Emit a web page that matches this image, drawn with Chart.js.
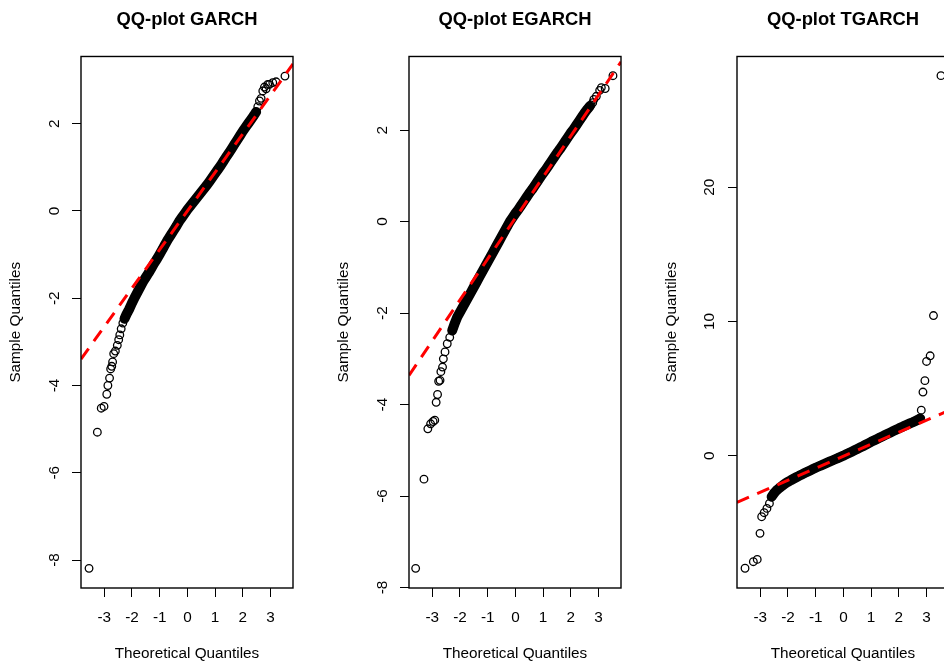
<!DOCTYPE html>
<html>
<head>
<meta charset="utf-8">
<script src="https://cdn.jsdelivr.net/npm/chart.js@4.4.0/dist/chart.umd.min.js"></script>
<style>
  html, body { margin: 0; padding: 0; background: #fff; overflow: hidden; }
  #wrap { width: 984px; height: 661px; display: flex; }
  canvas { display: block; }
</style>
</head>
<body>
<div id="wrap">
  <canvas id="garch" width="328" height="661"></canvas>
  <canvas id="egarch" width="328" height="661"></canvas>
  <canvas id="tgarch" width="328" height="661"></canvas>
</div>
<script>
// tick labels
var xTicks = [-3, -2, -1, 0, 1, 2, 3]
var garchTicks = [-8, -6, -4, -2, 0, 2]
var egarchTicks = [-8, -6, -4, -2, 0, 2]
var tgarchTicks = [0, 10, 20]

// GARCH: theoretical vs sample quantiles
var garchTheo = [-3.55, -3.25, -3.11, -3.01, -2.91, -2.87, -2.81, -2.77, -2.73, -2.70, -2.66, -2.60, -2.53, -2.48, -2.44, -2.39, -2.33,
  -2.27, -2.2, -2.1, -2.0, -1.9, -1.8, -1.7, -1.6, -1.5, -1.4, -1.3, -1.2, -1.1, -1.0, -0.9, -0.8, -0.7, -0.6, -0.5, -0.4, -0.3,
  -0.2, -0.1, 0.0, 0.1, 0.2, 0.3, 0.4, 0.5, 0.6, 0.7, 0.8, 0.9, 1.0, 1.1, 1.2, 1.3, 1.4, 1.5, 1.6, 1.7, 1.8, 1.9, 2.0, 2.1, 2.2,
  2.3, 2.4, 2.48, 2.54, 2.60, 2.66, 2.72, 2.78, 2.84, 2.90, 2.96, 3.08, 3.20, 3.52]
var garchSample = [-8.19, -5.07, -4.52, -4.48, -4.20, -4.00, -3.83, -3.62, -3.56, -3.46, -3.27, -3.21, -3.08, -2.95, -2.84, -2.70, -2.57,
  -2.47, -2.37, -2.25, -2.11, -1.98, -1.86, -1.74, -1.62, -1.52, -1.42, -1.31, -1.20, -1.10, -0.99, -0.88, -0.76, -0.65, -0.55, -0.45,
  -0.35, -0.24, -0.15, -0.06, 0.03, 0.11, 0.19, 0.27, 0.35, 0.43, 0.51, 0.59, 0.68, 0.77, 0.86, 0.95, 1.04, 1.14, 1.24, 1.33, 1.43,
  1.53, 1.63, 1.73, 1.83, 1.92, 2.01, 2.10, 2.19, 2.27, 2.39, 2.52, 2.58, 2.75, 2.84, 2.80, 2.90, 2.90, 2.94, 2.96, 3.09]

// EGARCH
var egarchTheo = [-3.60, -3.30, -3.16, -3.06, -2.97, -2.91, -2.86, -2.81, -2.77, -2.72, -2.69, -2.63, -2.60, -2.54, -2.46, -2.37,
  -2.28, -2.2, -2.1, -2.0, -1.9, -1.8, -1.7, -1.6, -1.5, -1.4, -1.3, -1.2, -1.1, -1.0, -0.9, -0.8, -0.7, -0.6, -0.5, -0.4, -0.3,
  -0.2, -0.1, 0.0, 0.1, 0.2, 0.3, 0.4, 0.5, 0.6, 0.7, 0.8, 0.9, 1.0, 1.1, 1.2, 1.3, 1.4, 1.5, 1.6, 1.7, 1.8, 1.9, 2.0, 2.1, 2.2,
  2.3, 2.4, 2.5, 2.60, 2.68, 2.73, 2.79, 2.83, 2.92, 3.04, 3.10, 3.24, 3.52]
var egarchSample = [-7.58, -5.63, -4.53, -4.42, -4.37, -4.34, -3.95, -3.78, -3.49, -3.47, -3.28, -3.18, -3.00, -2.85, -2.67, -2.53,
  -2.38, -2.24, -2.09, -1.98, -1.87, -1.76, -1.65, -1.54, -1.43, -1.32, -1.21, -1.10, -0.99, -0.88, -0.77, -0.66, -0.55, -0.44,
  -0.33, -0.22, -0.11, 0.00, 0.09, 0.18, 0.26, 0.35, 0.44, 0.53, 0.62, 0.70, 0.79, 0.88, 0.97, 1.06, 1.14, 1.23, 1.32, 1.41, 1.50,
  1.58, 1.67, 1.76, 1.85, 1.94, 2.02, 2.11, 2.20, 2.29, 2.38, 2.46, 2.52, 2.55, 2.60, 2.67, 2.74, 2.87, 2.93, 2.91, 3.19]

// TGARCH
var tgarchTheo = [-3.55, -3.25, -3.11, -3.01, -2.95, -2.86, -2.76, -2.67,
  -2.59, -2.5, -2.4, -2.3, -2.2, -2.1, -2.0, -1.9, -1.8, -1.7, -1.6, -1.5, -1.4, -1.3, -1.2, -1.1, -1.0, -0.9, -0.8, -0.7, -0.6,
  -0.5, -0.4, -0.3, -0.2, -0.1, 0.0, 0.1, 0.2, 0.3, 0.4, 0.5, 0.6, 0.7, 0.8, 0.9, 1.0, 1.1, 1.2, 1.3, 1.4, 1.5, 1.6, 1.7, 1.8,
  1.9, 2.0, 2.1, 2.2, 2.3, 2.4, 2.5, 2.6, 2.7, 2.77, 2.81, 2.87, 2.94, 3.00, 3.13, 3.25, 3.52]
var tgarchSample = [-8.38, -7.89, -7.72, -5.78, -4.54, -4.24, -3.92, -3.55,
  -3.05, -2.78, -2.55, -2.38, -2.22, -2.07, -1.94, -1.82, -1.71, -1.60, -1.49, -1.39, -1.29, -1.19, -1.09, -0.99, -0.89, -0.80,
  -0.71, -0.62, -0.53, -0.44, -0.35, -0.26, -0.17, -0.08, 0.01, 0.11, 0.21, 0.31, 0.41, 0.51, 0.61, 0.71, 0.82, 0.93, 1.04, 1.14,
  1.24, 1.34, 1.44, 1.54, 1.64, 1.74, 1.84, 1.94, 2.04, 2.13, 2.23, 2.32, 2.41, 2.50, 2.60, 2.70, 2.78, 3.40, 4.75, 5.60, 7.03,
  7.45, 10.45, 28.32]

// where the circles merge into a solid band
var garchBand = [-2.27, 2.48]
var egarchBand = [-2.28, 2.68]
var tgarchBand = [-2.59, 2.77]

// qqline: intercept, slope
var garchLine = [0.0, 0.884]
var egarchLine = [0.08, 0.896]
var tgarchLine = [-0.03, 0.894]

var xRange = [-3.84, 3.81]
var garchRange = [-8.64, 3.54]
var egarchRange = [-8.01, 3.61]
var tgarchRange = [-9.85, 29.75]

var fontFamily = '"Liberation Sans", Arial, Helvetica, sans-serif'

var boxPlugin = {
  id: 'box',
  afterDatasetsDraw(chart) {
    var a = chart.chartArea
    var ctx = chart.ctx
    ctx.save()
    ctx.strokeStyle = '#000'
    ctx.lineWidth = 1.4
    ctx.strokeRect(a.left, a.top, a.right - a.left, a.bottom - a.top)
    ctx.restore()
  }
}

function makeChart(id, title, theo, sample, band, line, range, yTicks) {
  var points = theo.map((q, i) => ({ x: q, y: sample[i] }))
  var core = points.filter(p => p.x >= band[0] && p.x <= band[1])
  var ends = xRange.map(q => ({ x: q, y: line[0] + line[1] * q }))

  return new Chart(document.getElementById(id), {
    type: 'scatter',
    data: {
      datasets: [
        {
          data: ends,
          showLine: true,
          borderColor: '#ff0000',
          borderWidth: 3,
          borderDash: [13, 9],
          pointRadius: 0,
          clip: 0,
          order: 0
        },
        {
          data: points,
          borderColor: '#000',
          backgroundColor: 'rgba(0,0,0,0)',
          borderWidth: 1.3,
          pointRadius: 3.8,
          order: 1
        },
        {
          data: core,
          showLine: true,
          borderColor: '#000',
          borderWidth: 10,
          borderCapStyle: 'round',
          borderJoinStyle: 'round',
          pointRadius: 0,
          order: 2
        }
      ]
    },
    options: {
      responsive: false,
      animation: false,
      events: [],
      layout: { padding: { left: 0, right: 35, top: 0, bottom: 0 } },
      plugins: {
        legend: { display: false },
        tooltip: { enabled: false },
        title: {
          display: true,
          text: title,
          fullSize: false,
          color: '#000',
          font: { family: fontFamily, size: 18.4, weight: 'bold', lineHeight: 1.2 },
          padding: { top: 8.9, bottom: 25.5 }
        }
      },
      scales: {
        x: {
          type: 'linear',
          min: xRange[0],
          max: xRange[1],
          afterBuildTicks: s => { s.ticks = xTicks.map(v => ({ value: v })) },
          afterFit: s => { s.height = 73 },
          grid: { display: true, drawOnChartArea: false, drawTicks: true, tickLength: 9, color: '#000', lineWidth: 1 },
          border: { display: false },
          ticks: {
            color: '#000',
            font: { family: fontFamily, size: 15.3 },
            padding: 12,
            maxRotation: 0,
            autoSkip: false,
            callback: v => String(v)
          },
          title: {
            display: true,
            text: 'Theoretical Quantiles',
            color: '#000',
            font: { family: fontFamily, size: 15.3, lineHeight: 1 },
            padding: { top: 0, bottom: 0 }
          }
        },
        y: {
          type: 'linear',
          min: range[0],
          max: range[1],
          afterBuildTicks: s => { s.ticks = yTicks.map(v => ({ value: v })) },
          afterFit: s => { s.width = 81 },
          grid: { display: true, drawOnChartArea: false, drawTicks: true, tickLength: 9, color: '#000', lineWidth: 1 },
          border: { display: false },
          ticks: {
            color: '#000',
            font: { family: fontFamily, size: 15.3 },
            minRotation: 90,
            maxRotation: 90,
            crossAlign: 'center',
            padding: 10,
            autoSkip: false,
            callback: v => String(v)
          },
          title: {
            display: true,
            text: 'Sample Quantiles',
            color: '#000',
            font: { family: fontFamily, size: 15.3, lineHeight: 1 },
            padding: { top: 8.5, bottom: 0 }
          }
        }
      }
    },
    plugins: [boxPlugin]
  })
}

makeChart('garch', 'QQ-plot GARCH', garchTheo, garchSample, garchBand, garchLine, garchRange, garchTicks)
makeChart('egarch', 'QQ-plot EGARCH', egarchTheo, egarchSample, egarchBand, egarchLine, egarchRange, egarchTicks)
makeChart('tgarch', 'QQ-plot TGARCH', tgarchTheo, tgarchSample, tgarchBand, tgarchLine, tgarchRange, tgarchTicks)
</script>
</body>
</html>
